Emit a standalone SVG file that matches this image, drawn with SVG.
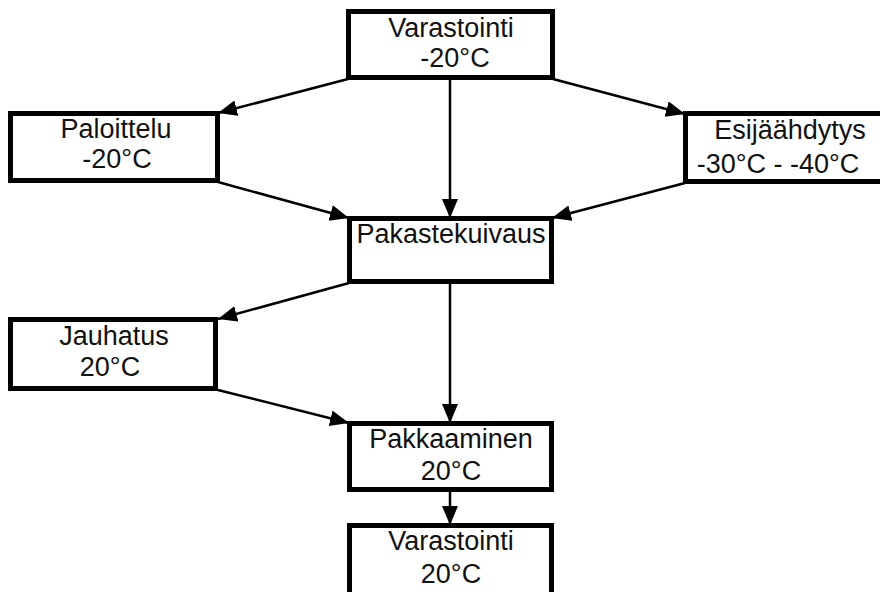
<svg xmlns="http://www.w3.org/2000/svg" width="880" height="592" viewBox="0 0 880 592">
<style>
.box{fill:#fff;stroke:#000;stroke-width:5}
.t{font-family:"Liberation Sans",Arial,sans-serif;font-size:27px;fill:#111;text-anchor:middle}
.c{stroke:#000;stroke-width:2.5;fill:none;marker-end:url(#ah)}
</style>
<defs>
<marker id="ah" markerUnits="userSpaceOnUse" markerWidth="22" markerHeight="18" refX="19" refY="8" orient="auto">
<path d="M0,0 L19,8 L0,16 Z" fill="#000"/>
</marker>
</defs>
<rect width="880" height="592" fill="#fff"/>
<g id="connectors">
<line class="c" x1="348" y1="79" x2="218" y2="113"/>
<line class="c" x1="553" y1="79" x2="685" y2="114"/>
<line class="c" x1="450" y1="80" x2="450" y2="218"/>
<line class="c" x1="218" y1="182" x2="349" y2="218"/>
<line class="c" x1="685" y1="183" x2="552" y2="218"/>
<line class="c" x1="349" y1="283" x2="218" y2="319"/>
<line class="c" x1="450" y1="284" x2="450" y2="423"/>
<line class="c" x1="218" y1="390" x2="349" y2="423"/>
<line class="c" x1="450" y1="491" x2="450" y2="525"/>
</g>
<g id="varastointi1">
<rect class="box" x="348.5" y="11.5" width="204" height="66"/>
<text class="t" x="451" y="37">Varastointi</text>
<text class="t" x="455" y="67">-20°C</text>
</g>
<g id="paloittelu">
<rect class="box" x="10.5" y="113.5" width="207" height="67"/>
<text class="t" x="116" y="138">Paloittelu</text>
<text class="t" x="117" y="168">-20°C</text>
</g>
<g id="esijaahdytys">
<rect class="box" x="685.5" y="113.5" width="220" height="68"/>
<text class="t" x="790" y="139">Esijäähdytys</text>
<text class="t" x="778" y="173">-30°C - -40°C</text>
</g>
<g id="pakastekuivaus">
<rect class="box" x="349.5" y="218.5" width="202" height="63"/>
<text class="t" x="451" y="243">Pakastekuivaus</text>
</g>
<g id="jauhatus">
<rect class="box" x="10.5" y="319.5" width="205" height="69"/>
<text class="t" x="114" y="345">Jauhatus</text>
<text class="t" x="110" y="376">20°C</text>
</g>
<g id="pakkaaminen">
<rect class="box" x="349.5" y="423.5" width="202" height="66"/>
<text class="t" x="451" y="448">Pakkaaminen</text>
<text class="t" x="451" y="480">20°C</text>
</g>
<g id="varastointi2">
<rect class="box" x="349.5" y="525.5" width="202" height="80"/>
<text class="t" x="451" y="550">Varastointi</text>
<text class="t" x="451" y="583">20°C</text>
</g>
</svg>
